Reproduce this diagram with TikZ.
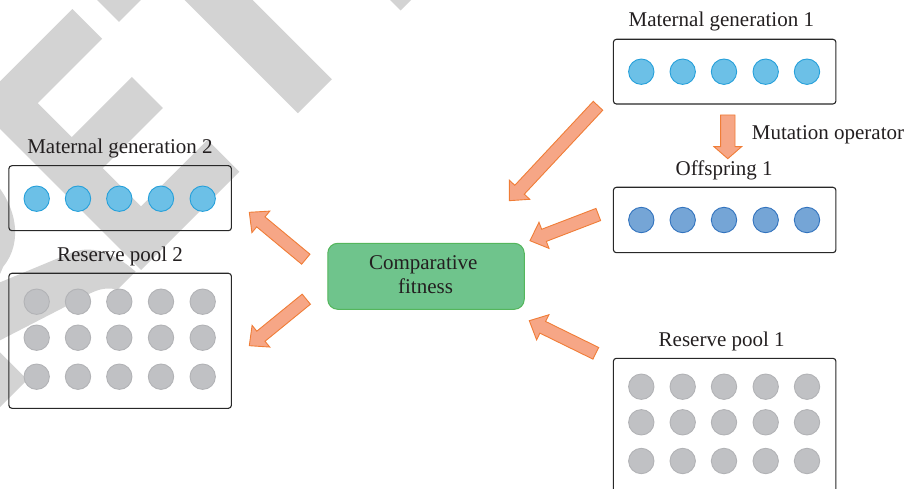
\documentclass[tikz,border=0pt]{standalone}
\usepackage{fontspec}
\setmainfont{Liberation Serif}
\usetikzlibrary{calc}
\definecolor{wmgrey}{RGB}{211,211,211}
\definecolor{boxline}{RGB}{40,40,40}
\definecolor{txtcol}{RGB}{35,31,32}
\definecolor{mgfill}{RGB}{108,192,231}
\definecolor{mgline}{RGB}{38,160,218}
\definecolor{offfill}{RGB}{117,165,214}
\definecolor{offline}{RGB}{50,115,190}
\definecolor{resfill}{RGB}{192,193,196}
\definecolor{resline}{RGB}{178,179,182}
\definecolor{fitfill}{RGB}{111,196,140}
\definecolor{fitline}{RGB}{84,182,92}
\definecolor{arrfill}{RGB}{246,166,134}
\definecolor{arrline}{RGB}{240,125,55}

% block arrow from tail #1 to tip #2, head length #3, half widths #4 (shaft) and #5 (head)
\newcommand\fatarrow[5]{%
  \coordinate (fa-s) at ($(#2)!#3pt!(#1)$);
  \draw[blockarrow] ($(#1)!#4pt!90:(#2)$) -- ($(fa-s)!#4pt!90:(#2)$)
    -- ($(fa-s)!#5pt!90:(#2)$) -- (#2) -- ($(fa-s)!#5pt!-90:(#2)$)
    -- ($(fa-s)!#4pt!-90:(#2)$) -- ($(#1)!#4pt!-90:(#2)$) -- cycle;}

\begin{document}
\begin{tikzpicture}[x=1pt,y=-1pt,
  letterframe/.style={x={(0.7071pt,0.7071pt)},y={(-0.7071pt,0.7071pt)}},
  wm/.style={fill=wmgrey},
  popbox/.style={draw=boxline,line width=1.1pt,rounded corners=3pt,
    minimum width=222.5pt,inner sep=0pt},
  dot/.style={circle,minimum size=25.4pt,inner sep=0pt,line width=0.9pt},
  mgdot/.style={dot,fill=mgfill,draw=mgline},
  offdot/.style={dot,fill=offfill,draw=offline},
  resdot/.style={dot,fill=resfill,draw=resline},
  fitbox/.style={draw=fitline,fill=fitfill,line width=1pt,rounded corners=10pt,
    minimum width=196.5pt,minimum height=66pt,inner sep=0pt},
  blockarrow/.style={fill=arrfill,draw=arrline,line width=0.9pt,line join=miter},
  lbl/.style={font=\fontsize{21}{24}\selectfont,text=txtcol,inner sep=0pt}]
\useasboundingbox (0,0) rectangle (911,489);
\begin{scope}
\clip (0,0) rectangle (911,489);

% background lettering, drawn along the diagonal (origins in canvas pt)
\begin{scope}[letterframe,shift={(-4.5pt,-411.5pt)}]
  \fill[wm,even odd rule]
    (0,0) -- (0,233) -- (100,233)
    .. controls (142,233) and (162,208) .. (162,170)
    .. controls (162,132) and (140,100) .. (108,97)
    -- (90,90) -- (165,59)
    .. controls (185,51) and (196,30) .. (198,0)
    -- (172,0) .. controls (165,14) and (150,17) .. (129,23)
    -- (54,47) -- (45,50) -- (45,0) -- cycle
    (45,143) -- (45,190) -- (98,190)
    .. controls (112,190) and (118,180) .. (118,166)
    .. controls (118,152) and (110,143) .. (98,143) -- cycle;
\end{scope}
\begin{scope}[letterframe,shift={(141pt,-270pt)}]
  \fill[wm] (0,0) -- (139,0) -- (139,45) -- (45,45) -- (45,99) -- (130,99)
    -- (130,143) -- (45,143) -- (45,191) -- (136,191) -- (136,233)
    -- (0,233) -- cycle;
\end{scope}
\begin{scope}[letterframe,shift={(254pt,-157pt)}]
  \fill[wm] (62,0) -- (110,0) -- (110,191) -- (172,191) -- (172,233)
    -- (0,233) -- (0,191) -- (62,191) -- cycle;
\end{scope}
\begin{scope}[letterframe,shift={(400.5pt,-10.5pt)}]
  \fill[wm] (0,0) -- (45,0) -- (45,233) -- (0,233) -- cycle;
\end{scope}

% population boxes
\node[popbox,minimum height=64.7pt] (mg1) at (724.65,71.65) {};
\node[popbox,minimum height=65.4pt] (off1) at (724.65,220) {};
\node[popbox,minimum height=135pt] (rp1) at (724.65,425.8) {};
\node[popbox,minimum height=65pt] (mg2) at (120.15,198.2) {};
\node[popbox,minimum height=135pt] (rp2) at (120.15,340.8) {};

% individuals
\foreach \i/\cx in {1/641.3,2/682.7,3/724,4/765.7,5/807} {
  \node[mgdot] (mg1d\i) at (\cx,71.7) {};
  \node[offdot] (off1d\i) at (\cx,220) {};
  \node[resdot] (rp1a\i) at (\cx,386.7) {};
  \node[resdot] (rp1b\i) at (\cx,422.3) {};
  \node[resdot] (rp1c\i) at (\cx,461) {};
}
\foreach \i/\cx in {1/36.7,2/78,3/119.3,4/161,5/202.7} {
  \node[mgdot] (mg2d\i) at (\cx,198.7) {};
  \node[resdot] (rp2a\i) at (\cx,301.7) {};
  \node[resdot] (rp2b\i) at (\cx,337.7) {};
  \node[resdot] (rp2c\i) at (\cx,376.7) {};
}

% comparison stage
\node[fitbox] (fit) at (426,276.3) {};

% arrow ends
\coordinate (a1t) at (598,105.8);  \coordinate (a1h) at (509.3,200.7);
\coordinate (a2t) at (598.3,214.5); \coordinate (a2h) at (530,240.7);
\coordinate (a3t) at (595.8,353.3); \coordinate (a3h) at (529.3,320.7);
\coordinate (a4t) at (305.8,259.2); \coordinate (a4h) at (249.3,212.3);
\coordinate (a5t) at (306.3,299.2); \coordinate (a5h) at (249.3,345.7);
\coordinate (mut) at (727.8,115);   \coordinate (muh) at (727.8,158.7);

\fatarrow{a1t}{a1h}{15}{6.5}{14}
\fatarrow{a2t}{a2h}{15}{6.5}{14}
\fatarrow{a3t}{a3h}{15}{6.5}{14}
\fatarrow{a4t}{a4h}{15}{6.5}{14}
\fatarrow{a5t}{a5h}{15}{6.5}{14}
\fatarrow{mut}{muh}{12}{7.2}{13.8}

% labels
\node[lbl,anchor=base] (lmg1) at (721.3,26.5) {Maternal generation 1};
\node[lbl,anchor=base] (loff1) at (724.2,176) {Offspring 1};
\node[lbl,anchor=base west] (lmut) at (751.7,139.3) {Mutation operator};
\node[lbl,anchor=base] (lmg2) at (120,153.3) {Maternal generation 2};
\node[lbl,anchor=base] (lrp2) at (120,261.7) {Reserve pool 2};
\node[lbl,anchor=base] (lrp1) at (721.7,346.7) {Reserve pool 1};
\node[lbl,anchor=base] (lfit1) at (423.3,270) {Comparative};
\node[lbl,anchor=base] (lfit2) at (425.5,294) {fitness};
\end{scope}
\end{tikzpicture}
\end{document}
